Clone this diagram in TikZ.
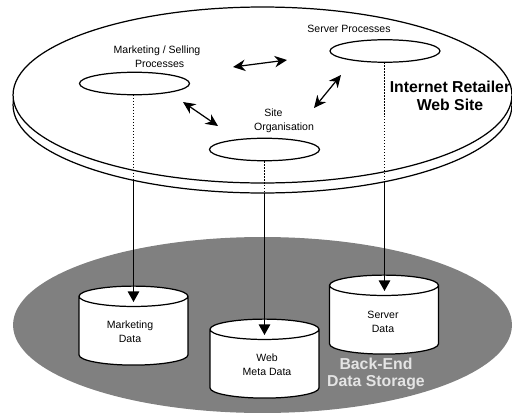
\documentclass[tikz,border=0pt]{standalone}
\usepackage{fontspec}
\setmainfont{Liberation Sans}
\usetikzlibrary{shapes.geometric, arrows.meta}
\definecolor{storagegray}{HTML}{808080}
\definecolor{labelgray}{HTML}{E4E4E4}
\tikzset{
  disc/.style={draw=black, fill=white, ellipse, line width=0.7pt, inner sep=0pt, minimum width=9.98cm, minimum height=3.52cm},
  proc/.style={draw=black, fill=white, ellipse, line width=0.7pt, inner sep=0pt, minimum width=2.2cm, minimum height=0.45cm},
  store/.style={draw=black, fill=white, cylinder, shape border rotate=90, shape aspect=0.44, line width=0.7pt, inner sep=0pt, minimum width=2.18cm, minimum height=1.58cm, align=center, font=\fontsize{6}{8}\selectfont},
  small/.style={align=center, inner sep=0pt, font=\fontsize{6}{8}\selectfont},
  big/.style={align=center, inner sep=0pt, font=\fontsize{9}{10}\selectfont\bfseries},
  flow/.style={line width=0.7pt, -{Triangle[length=6pt, width=6.5pt]}},
  drop/.style={line width=0.7pt, densely dotted},
  swap/.style={line width=0.7pt, {Stealth[length=7pt, width=6.5pt]}-{Stealth[length=7pt, width=6.5pt]}}
}
\newcommand{\storeblank}{\phantom{Marketing}\\\phantom{Data}}
\begin{document}
\begin{tikzpicture}[x=0.02cm, y=-0.02cm]
    \useasboundingbox (0,0) rectangle (512,413);
    % Back-end
    \node[ellipse, fill=storagegray, inner sep=0pt, minimum width=9.98cm, minimum height=3.52cm] (ground) at (262.5,325) {};
    \node[store] (mdata) at (133.5,331) {\storeblank};
    \node[store] (wdata) at (264.5,364) {\storeblank};
    \node[store] (sdata) at (384,320) {\storeblank};
    \node[small] (mtext) at (130,332) {Marketing\\Data};
    \node[small] (wtext) at (267,365) {Web\\Meta Data};
    \node[small] (stext) at (383,321.5) {Server\\Data};
    \node[big, text=labelgray] (storage) at (376,374) {Back-End\\Data Storage};
    % Web site disc
    \node[disc] (rim) at (262.5,105) {};
    \node[disc] (site) at (262.5,95) {};
    \node[proc] (mproc) at (134.5,83.5) {};
    \node[proc] (oproc) at (264.5,149.5) {};
    \node[proc] (sproc) at (385,51) {};
    % Labels
    \node[small] (mlabel) at (157,56.5) {Marketing / Selling\\\hspace*{0.5em}Processes};
    \node[small] (olabel) at (284,121) {Site\hspace*{2em}\\Organisation};
    \node[small] (slabel) at (349,29) {Server Processes};
    \node[big] (sitelabel) at (450,96) {Internet Retailer\\Web Site};
    % Double arrows
    \coordinate (a1) at (233,67);
    \coordinate (a2) at (287,60);
    \coordinate (b1) at (183,102);
    \coordinate (b2) at (218,126);
    \coordinate (c1) at (341,75);
    \coordinate (c2) at (314,108);
    \draw[swap] (a1) -- (a2);
    \draw[swap] (b1) -- (b2);
    \draw[swap] (c1) -- (c2);
    % Links down
    \coordinate (mrim) at (133.5,181);
    \coordinate (orim) at (264.5,193);
    \coordinate (srim) at (384.5,182);
    \coordinate (mtip) at (133.5,302);
    \coordinate (otip) at (264.5,335);
    \coordinate (stip) at (384.5,291);
    \draw[drop] (133.5,95) -- (mrim);
    \draw[drop] (oproc.south) -- (orim);
    \draw[drop] (384.5,62.5) -- (srim);
    \draw[flow] (mrim) -- (mtip);
    \draw[flow] (orim) -- (otip);
    \draw[flow] (srim) -- (stip);
\end{tikzpicture}
\end{document}
